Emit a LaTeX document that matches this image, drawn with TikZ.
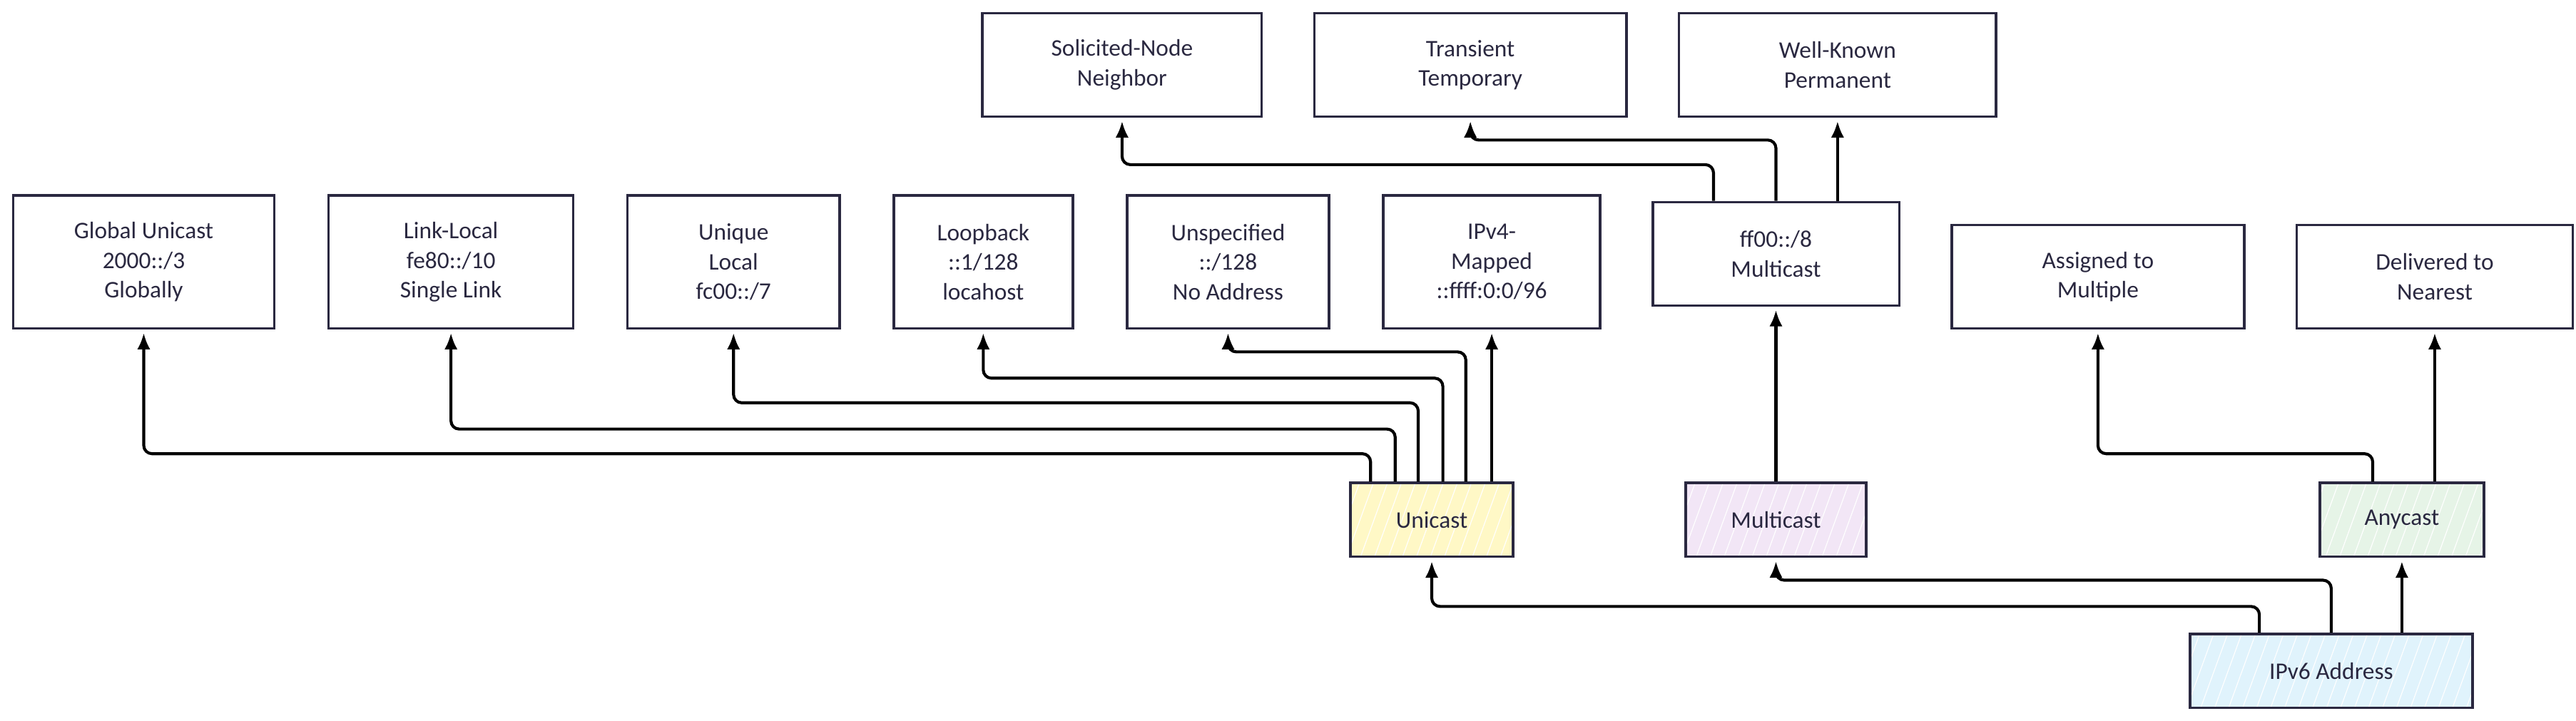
\documentclass[tikz,border=0pt]{standalone}
\usepackage{fontspec}
\setmainfont{Carlito}
\usepackage{tikz}
\usetikzlibrary{arrows.meta,patterns.meta}

\definecolor{ink}{HTML}{2A2840}
\definecolor{uniFill}{HTML}{FFF8C6}
\definecolor{multiFill}{HTML}{F2E6F6}
\definecolor{anyFill}{HTML}{E6F4E7}
\definecolor{addrFill}{HTML}{E0F3FC}

\tikzset{
	leaf/.style={draw=ink,line width=1.5pt,align=center,inner sep=0pt,text=ink,font=\fontsize{14.5}{18}\selectfont},
	kind/.style={leaf,preaction={fill=#1},preaction={pattern={Lines[angle=70,distance=8pt,line width=0.5pt]},pattern color=white}},
	arr/.style={line width=1.8pt,-{Latex[length=10pt,width=8pt]},rounded corners=5pt,shorten >=2pt}
}

\begin{document}
\begin{tikzpicture}[x=1pt,y=-1pt]
	\useasboundingbox (0,0) rectangle (1568,439);
	
	%root and kinds
	\node[kind=addrFill,minimum width=172pt,minimum height=45pt] (addr) at (1419,408.5) {IPv6 Address};
	\node[kind=uniFill,minimum width=99pt,minimum height=45pt] (uni) at (871.5,316.5) {Unicast};
	\node[kind=multiFill,minimum width=110pt,minimum height=45pt] (multi) at (1081,316.5) {Multicast};
	\node[kind=anyFill,minimum width=100pt,minimum height=45pt] (any) at (1462,316.5) {Anycast};
	
	%unicast types
	\node[leaf,minimum width=159pt,minimum height=81pt] (glob) at (87.5,159.5) {Global Unicast\\2000::/3\\Globally};
	\node[leaf,minimum width=149pt,minimum height=81pt] (link) at (274.5,159.5) {Link-Local\\fe80::/10\\Single Link};
	\node[leaf,minimum width=129pt,minimum height=81pt] (ula) at (446.5,159.5) {Unique\\Local\\fc00::/7};
	\node[leaf,minimum width=109pt,minimum height=81pt] (loop) at (598.5,159.5) {Loopback\\::1/128\\locahost};
	\node[leaf,minimum width=123pt,minimum height=81pt] (unspec) at (747.5,159.5) {Unspecified\\::/128\\No Address};
	\node[leaf,minimum width=132pt,minimum height=81pt] (mapped) at (908,159.5) {IPv4-\\Mapped\\::ffff:0:0/96};
	
	%multicast
	\node[leaf,minimum width=150pt,minimum height=63pt] (ff) at (1081,154.5) {ff00::/8\\Multicast};
	\node[leaf,minimum width=170pt,minimum height=63pt] (solic) at (683,39.5) {Solicited-Node\\Neighbor};
	\node[leaf,minimum width=190pt,minimum height=63pt] (trans) at (895,39.5) {Transient\\Temporary};
	\node[leaf,minimum width=193pt,minimum height=63pt] (known) at (1118.5,39.5) {Well-Known\\Permanent};
	
	%anycast
	\node[leaf,minimum width=178pt,minimum height=63pt] (assign) at (1277,168.5) {Assigned to\\Multiple};
	\node[leaf,minimum width=168pt,minimum height=63pt] (near) at (1482,168.5) {Delivered to\\Nearest};
	
	\draw[arr] ([xshift=43pt]addr.north west) -- ++(0,-16) -| (uni.south);
	\draw[arr] (addr.north) -- ++(0,-32) -| (multi.south);
	\draw[arr] (addr.north -| any.south) -- (any.south);
	
	\draw[arr] ([xshift=13pt]uni.north west) -- ++(0,-17) -| (glob.south);
	\draw[arr] ([xshift=28pt]uni.north west) -- ++(0,-32) -| (link.south);
	\draw[arr] ([xshift=42pt]uni.north west) -- ++(0,-48) -| (ula.south);
	\draw[arr] ([xshift=57pt]uni.north west) -- ++(0,-63) -| (loop.south);
	\draw[arr] ([xshift=71pt]uni.north west) -- ++(0,-79) -| (unspec.south);
	\draw[arr] (uni.north -| mapped.south) -- (mapped.south);
	
	\draw[arr] (multi.north) -- (ff.south);
	\draw[arr] ([xshift=-38pt]ff.north) -- ++(0,-22) -| (solic.south);
	\draw[arr] (ff.north) -- ++(0,-37) -| (trans.south);
	\draw[arr] (ff.north -| known.south) -- (known.south);
	
	\draw[arr] ([xshift=33pt]any.north west) -- ++(0,-17) -| (assign.south);
	\draw[arr] (any.north -| near.south) -- (near.south);
\end{tikzpicture}
\end{document}
